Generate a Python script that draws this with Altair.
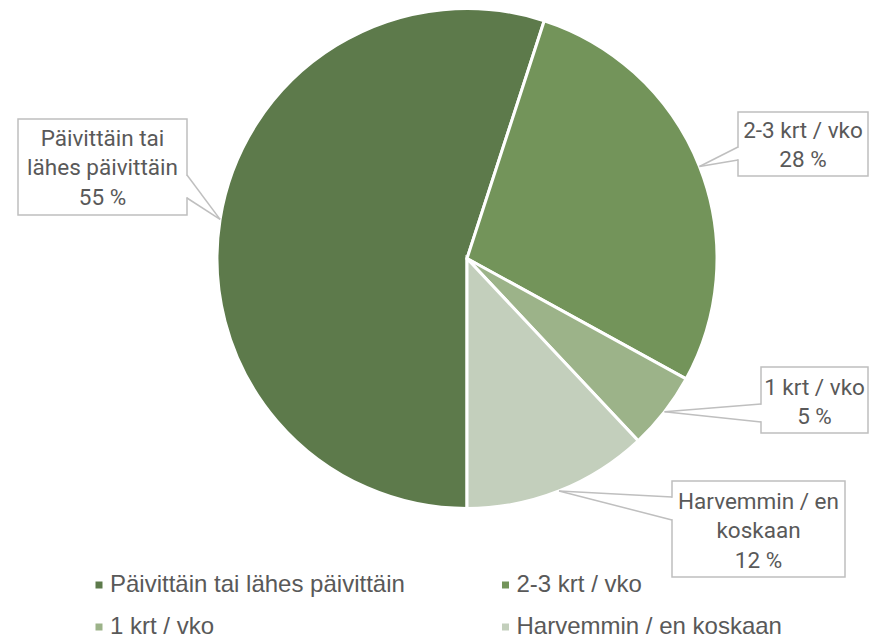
import math
import altair as alt
import pandas as pd

# ---- data ----
categories = ["Päivittäin tai lähes päivittäin", "2-3 krt / vko", "1 krt / vko", "Harvemmin / en koskaan"]
values = [55, 28, 5, 12]
label_lines = [["Päivittäin tai", "lähes päivittäin"], ["2-3 krt / vko"], ["1 krt / vko"], ["Harvemmin / en", "koskaan"]]
colors = ["#5D7A4B", "#73945A", "#9CB389", "#C3CFBC"]

# ---- layout (image pixel coordinates) ----
W, H = 863, 640
CX, CY, R = 467, 258.5, 250
# label boxes: x1, x2, y1, y2, wedge edge x, wedge y1, wedge y2, first baseline
boxes = [
    (18, 187, 119, 215, 187, 175, 198, 146),
    (738, 868, 112, 176, 738, 147, 160, 138),
    (761, 868, 367, 433, 761, 404, 422, 395),
    (672, 845, 481, 577, 672, 497, 520, 509),
]
LINE_H = 29.3
legend_pos = [(99, 585), (505.5, 585), (99, 627), (505.5, 627)]

GRAY = "#BFBFBF"
TXT = "#595959"

xs = alt.Scale(domain=[8, 8 + W], nice=False, zero=False)
ys = alt.Scale(domain=[8, 8 + H], nice=False, zero=False, reverse=True)

pie_df = pd.DataFrame({"cat": categories, "value": values, "idx": range(len(values))})

total = sum(values)
tips = []
cum = 0
for v in values:
    ang = math.pi + 2 * math.pi * (cum + v / 2) / total
    tips.append((CX + R * math.sin(ang), CY - R * math.cos(ang)))
    cum += v

box_rows, lead_rows, cover_rows, text_rows = [], [], [], []
for i, b in enumerate(boxes):
    x1, x2, y1, y2, ex, wy1, wy2, base = b
    box_rows.append({"x1": x1, "x2": x2, "y1": y1, "y2": y2})
    tx, ty = tips[i]
    lead_rows.append({"x": ex, "y": wy1, "x2": tx, "y2": ty})
    lead_rows.append({"x": ex, "y": wy2, "x2": tx, "y2": ty})
    cover_rows.append({"x": ex, "y": wy1 + 0.8, "x2": ex, "y2": wy2 - 0.8})
    lines = label_lines[i] + [f"{values[i]} %"]
    for j, t in enumerate(lines):
        text_rows.append({"x": (x1 + x2) / 2, "y": base + j * LINE_H, "t": t})

color_scale = alt.Scale(domain=categories, range=colors)

pie = alt.Chart(pie_df).mark_arc(outerRadius=R, stroke="white", strokeWidth=3).encode(
    theta=alt.Theta("value:Q", stack=True, scale=alt.Scale(range=[math.pi, 3 * math.pi])),
    color=alt.Color("cat:N", scale=color_scale, legend=None),
    order=alt.Order("idx:Q"),
    x=alt.value(CX - 8),
    y=alt.value(CY - 8),
)

rects = alt.Chart(pd.DataFrame(box_rows)).mark_rect(fill="white", stroke=GRAY, strokeWidth=1.5).encode(
    x=alt.X("x1:Q", scale=xs, axis=None), x2="x2:Q",
    y=alt.Y("y1:Q", scale=ys, axis=None), y2="y2:Q",
)

covers = alt.Chart(pd.DataFrame(cover_rows)).mark_rule(stroke="white", strokeWidth=3).encode(
    x=alt.X("x:Q", scale=xs, axis=None), x2="x2:Q",
    y=alt.Y("y:Q", scale=ys, axis=None), y2="y2:Q",
)

leads = alt.Chart(pd.DataFrame(lead_rows)).mark_rule(stroke=GRAY, strokeWidth=1.5).encode(
    x=alt.X("x:Q", scale=xs, axis=None), x2="x2:Q",
    y=alt.Y("y:Q", scale=ys, axis=None), y2="y2:Q",
)

labels = alt.Chart(pd.DataFrame(text_rows)).mark_text(
    font="Roboto", fontSize=22.5, fontWeight="normal", color=TXT, align="center", baseline="alphabetic"
).encode(
    x=alt.X("x:Q", scale=xs, axis=None),
    y=alt.Y("y:Q", scale=ys, axis=None),
    text="t:N",
)

leg_df = pd.DataFrame({
    "cat": categories,
    "x": [p[0] for p in legend_pos],
    "y": [p[1] for p in legend_pos],
})
leg_df["tx"] = leg_df["x"] + 11

leg_sq = alt.Chart(leg_df).mark_square(size=49, opacity=1).encode(
    x=alt.X("x:Q", scale=xs, axis=None),
    y=alt.Y("y:Q", scale=ys, axis=None),
    color=alt.Color("cat:N", scale=color_scale, legend=None),
)

leg_txt = alt.Chart(leg_df).mark_text(
    font="Liberation Sans", fontSize=24, color=TXT, align="left", baseline="middle"
).encode(
    x=alt.X("tx:Q", scale=xs, axis=None),
    y=alt.Y("y:Q", scale=ys, axis=None),
    text="cat:N",
)

chart = alt.layer(pie, rects, covers, leads, labels, leg_sq, leg_txt).properties(
    width=W, height=H, autosize=alt.AutoSizeParams(type="none"), padding=0, background="white"
).configure_view(stroke=None)

chart.save("out.html", embed_options={"renderer": "svg", "actions": False})
